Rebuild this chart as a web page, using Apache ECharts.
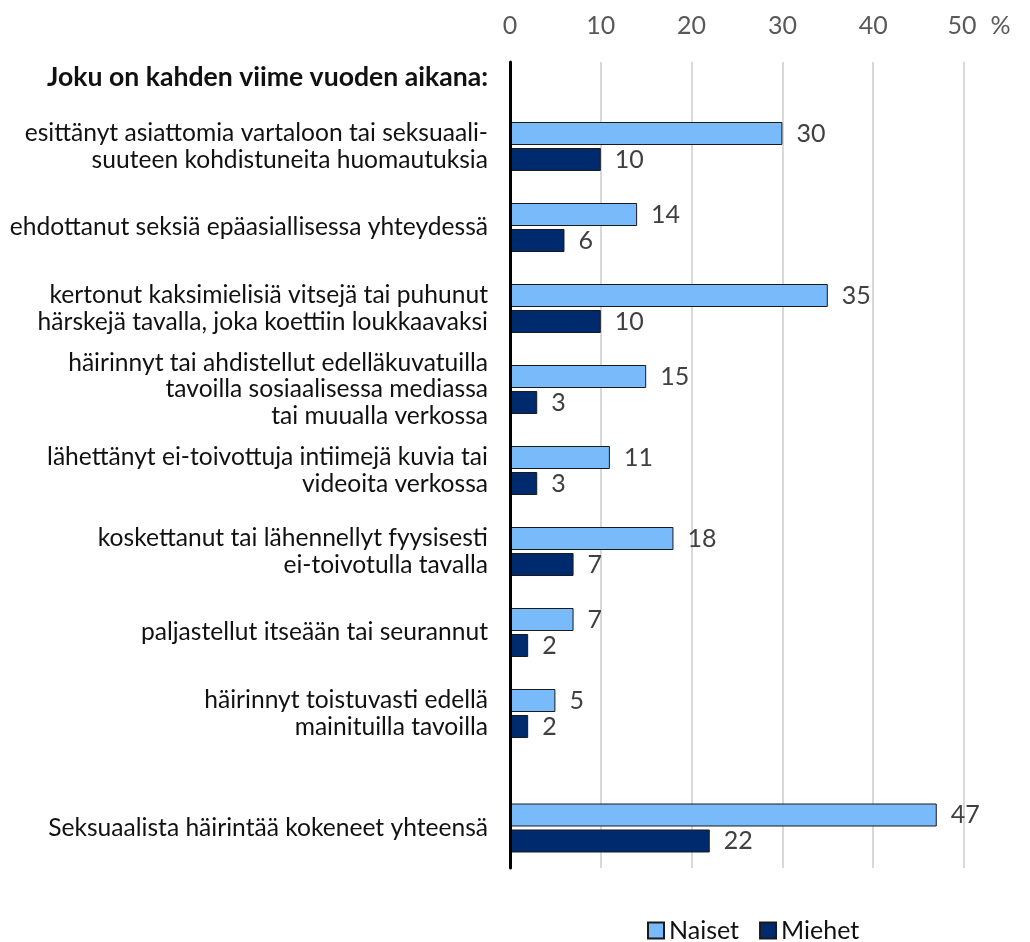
<!DOCTYPE html>
<html>
<head>
<meta charset="utf-8">
<script src="https://cdn.jsdelivr.net/npm/echarts@6/dist/echarts.min.js"></script>
<style>
  html, body { margin: 0; padding: 0; background: #fff; }
  #chart { width: 1030px; height: 942px; }
</style>
</head>
<body>
<div id="chart"></div>
<script>
const headerLabel = 'Joku on kahden viime vuoden aikana:';
const categories = [
  'esittänyt asiattomia vartaloon tai seksuaali-\nsuuteen kohdistuneita huomautuksia',
  'ehdottanut seksiä epäasiallisessa yhteydessä',
  'kertonut kaksimielisiä vitsejä tai puhunut\nhärskejä tavalla, joka koettiin loukkaavaksi',
  'häirinnyt tai ahdistellut edelläkuvatuilla\ntavoilla sosiaalisessa mediassa\ntai muualla verkossa',
  'lähettänyt ei-toivottuja intiimejä kuvia tai\nvideoita verkossa',
  'koskettanut tai lähennellyt fyysisesti\nei-toivotulla tavalla',
  'paljastellut itseään tai seurannut',
  'häirinnyt toistuvasti edellä\nmainituilla tavoilla'
];
const naiset = [30, 14, 35, 15, 11, 18, 7, 5];
const miehet = [10, 6, 10, 3, 3, 7, 2, 2];
const totalCategory = ['Seksuaalista häirintää kokeneet yhteensä'];
const naisetTotal = [47];
const miehetTotal = [22];
const seriesNames = ['Naiset', 'Miehet'];
const xMin = 0, xMax = 50, xStep = 10;
const unitLabel = '%';

const FONT = 'Lato, "Open Sans", sans-serif';
const colNaiset = '#79BAFB';
const colMiehet = '#002A6E';

const chart = echarts.init(document.getElementById('chart'), null, { renderer: 'canvas' });

const valueAxisBase = { type: 'value', min: xMin, max: xMax, interval: xStep };

const barLabel = {
  show: true, position: 'right', distance: 14,
  fontFamily: FONT, fontSize: 25, color: '#404040'
};
const barBorder = { borderColor: '#1a1a1a', borderWidth: 1 };

function catAxis(gridIndex, data) {
  return {
    type: 'category', gridIndex, data, inverse: true,
    axisLine: { show: false }, axisTick: { show: false },
    axisLabel: {
      fontFamily: FONT, fontSize: 24.6, color: '#111', align: 'right',
      margin: 22, lineHeight: 26.5
    }
  };
}

const option = {
  animation: false,
  backgroundColor: '#fff',
  title: {
    text: headerLabel, right: 537, top: 58,
    textStyle: { fontFamily: FONT, fontSize: 26.6, fontWeight: 'bold', color: '#111', lineHeight: 28 }
  },
  legend: {
    data: seriesNames, left: 642, top: 913,
    icon: 'rect', itemWidth: 16, itemHeight: 16, itemGap: 20,
    textStyle: { fontFamily: FONT, fontSize: 25, color: '#111' }
  },
  grid: [
    { left: 510, right: 66, top: 62, height: 806 },
    { left: 510, right: 66, top: 106, height: 648 },
    { left: 510, right: 66, top: 787.5, height: 81 }
  ],
  xAxis: [
    Object.assign({}, valueAxisBase, {
      gridIndex: 0, position: 'top',
      axisLine: { show: false }, axisTick: { show: false },
      axisLabel: {
        fontFamily: FONT, fontSize: 25, color: '#595959', margin: 24,
        formatter: v => v === xMax ? '{pad|}' + v + '{u|' + unitLabel + '}' : String(v),
        rich: {
          pad: { width: 30 },
          u: { fontFamily: FONT, fontSize: 25, color: '#595959', padding: [0, 0, 0, 14] }
        }
      },
      splitLine: { show: true, lineStyle: { color: '#d9d9d9', width: 2 } }
    }),
    Object.assign({}, valueAxisBase, { gridIndex: 1, show: false }),
    Object.assign({}, valueAxisBase, { gridIndex: 2, show: false })
  ],
  yAxis: [
    {
      type: 'category', gridIndex: 0, data: [''], z: 5,
      axisLine: { show: true, lineStyle: { color: '#000', width: 3 } },
      axisTick: { show: false }, axisLabel: { show: false }
    },
    catAxis(1, categories),
    catAxis(2, totalCategory)
  ],
  series: [
    { name: seriesNames[0], type: 'bar', xAxisIndex: 1, yAxisIndex: 1, data: naiset,
      barWidth: 23, barGap: '13%', itemStyle: Object.assign({ color: colNaiset }, barBorder), label: barLabel },
    { name: seriesNames[1], type: 'bar', xAxisIndex: 1, yAxisIndex: 1, data: miehet,
      barWidth: 23, barGap: '13%', itemStyle: Object.assign({ color: colMiehet }, barBorder), label: barLabel },
    { name: seriesNames[0], type: 'bar', xAxisIndex: 2, yAxisIndex: 2, data: naisetTotal,
      barWidth: 23, barGap: '13%', itemStyle: Object.assign({ color: colNaiset }, barBorder), label: barLabel },
    { name: seriesNames[1], type: 'bar', xAxisIndex: 2, yAxisIndex: 2, data: miehetTotal,
      barWidth: 23, barGap: '13%', itemStyle: Object.assign({ color: colMiehet }, barBorder), label: barLabel }
  ]
};

chart.setOption(option);
</script>
</body>
</html>
